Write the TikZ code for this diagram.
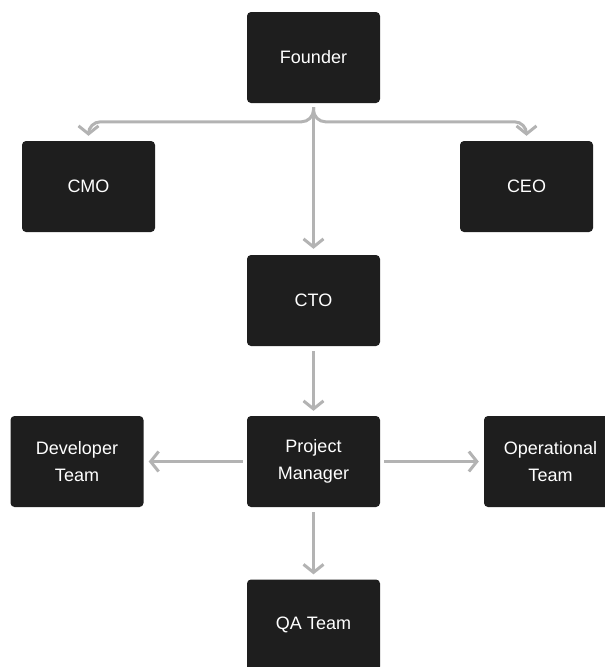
\documentclass[tikz,border=0pt]{standalone}
\usepackage{fontspec}
\setmainfont{Liberation Sans}
\usetikzlibrary{arrows.meta}
\definecolor{boxfill}{HTML}{1E1E1E}
\definecolor{linegray}{HTML}{B3B3B3}
\begin{document}
\begin{tikzpicture}[x=1pt,y=-1pt,
  box/.style={rectangle, fill=boxfill, rounded corners=4pt, minimum width=133pt, minimum height=91pt,
    text=white, align=center, font=\fontsize{18}{27}\selectfont, inner sep=0pt},
  conn/.style={draw=linegray, line width=3pt, -{Straight Barb[length=8pt,width=20pt,line width=3pt]}}]
\useasboundingbox (0,0) rectangle (605,667);
\node[box] (founder) at (313.5,57.5) {Founder};
\node[box] (cmo) at (88.5,186.5) {CMO};
\node[box] (ceo) at (526.5,186.5) {CEO};
\node[box] (cto) at (313.5,300.5) {CTO};
\node[box] (pm) at (313.5,461.5) {Project\\Manager};
\node[box] (dev) at (77,461.5) {Developer\\Team};
\node[box] (ops) at (550.5,461.5) {Operational\\Team};
\node[box] (qa) at (313.5,625) {QA Team};
% founder branches
\draw[conn] ([yshift=-4pt]founder.south) -- ([yshift=6pt]cto.north);
\draw[conn, rounded corners=12pt] ([yshift=-4pt]founder.south) |- ([yshift=19pt]cmo.north) -- ([yshift=5pt]cmo.north);
\draw[conn, rounded corners=12pt] ([yshift=-4pt]founder.south) |- ([yshift=19pt]ceo.north) -- ([yshift=5pt]ceo.north);
% cto and pm
\draw[conn] ([yshift=-5pt]cto.south) -- ([yshift=5pt]pm.north);
\draw[conn] ([xshift=-4pt]pm.west) -- ([xshift=5pt]dev.east);
\draw[conn] ([xshift=4pt]pm.east) -- ([xshift=-5pt]ops.west);
\draw[conn] ([yshift=-5pt]pm.south) -- ([yshift=5pt]qa.north);
\end{tikzpicture}
\end{document}
